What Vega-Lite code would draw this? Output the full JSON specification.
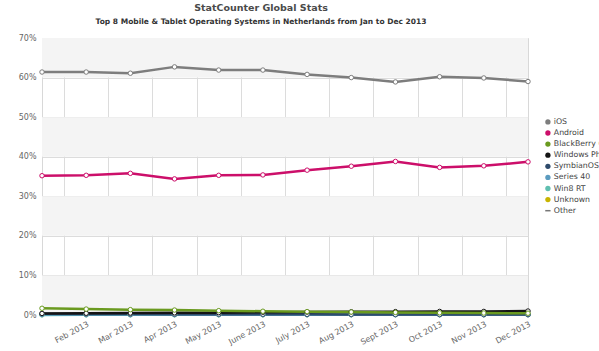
{
  "$schema": "https://vega.github.io/schema/vega-lite/v6.json",
  "autosize": "none",
  "width": 486,
  "height": 277,
  "padding": {"left": 42, "top": 38, "right": 71, "bottom": 36},
  "background": "white",
  "config": {
    "view": {"stroke": "#d8d8d8"},
    "font": "DejaVu Sans",
    "axisY": {"values": [0, 10, 20, 30, 40, 50, 60, 70], "labelExpr": "datum.value + '%'", "title": null,
      "grid": true, "gridColor": "#dcdcdc", "domain": false, "ticks": false, "labelFontSize": 8,
      "labelColor": "#666666", "labelPadding": 6, "labelFont": "DejaVu Sans", "labelOverlap": false, "tickCount": 8}
  },
  "title": {
    "text": "StatCounter Global Stats",
    "subtitle": "Top 8 Mobile & Tablet Operating Systems in Netherlands from Jan to Dec 2013",
    "font": "DejaVu Sans", "fontSize": 9.5, "fontWeight": "bold", "color": "#4a4a4a",
    "subtitleFont": "DejaVu Sans", "subtitleFontSize": 7.5, "subtitleFontWeight": "bold", "subtitleColor": "#333333",
    "anchor": "middle", "dx": -24, "offset": 9, "subtitlePadding": 5
  },
  "layer": [
    {
      "data": {"values": [{"lo": 0, "hi": 10}, {"lo": 20, "hi": 30}, {"lo": 40, "hi": 50}, {"lo": 60, "hi": 70}]},
      "mark": {"type": "rect", "color": "#f4f4f4"},
      "encoding": {
        "y": {"field": "lo", "type": "quantitative", "scale": {"domain": [0, 70], "nice": false},
          "axis": {"values": [0, 10, 20, 30, 40, 50, 60, 70], "labelExpr": "datum.value + '%'", "title": null, "labelOverlap": false}},
        "y2": {"field": "hi"}
      }
    },
    {
      "data": {"name": "main"},
      "mark": {"type": "line", "strokeWidth": 2.5},
      "encoding": {
        "x": {"field": "m", "type": "quantitative", "scale": {"domain": [1, 12], "nice": false, "zero": false},
          "axis": {"values": [2, 3, 4, 5, 6, 7, 8, 9, 10, 11, 12], "title": null,
            "labelExpr": "['Jan','Feb','Mar','Apr','May','June','July','Aug','Sept','Oct','Nov','Dec'][datum.value - 1] + ' 2013'",
            "labelAngle": -28, "labelAlign": "right", "labelBaseline": "top", "labelFontSize": 8, "labelColor": "#666666",
            "labelPadding": 5, "tickOffset": -22.09, "labelOffset": 22.09, "grid": true, "gridColor": "#dcdcdc",
            "ticks": false, "domain": true, "domainColor": "#c8c8c8", "labelFont": "DejaVu Sans", "labelOverlap": false}},
        "y": {"field": "share", "type": "quantitative",
          "axis": {"values": [0, 10, 20, 30, 40, 50, 60, 70], "labelExpr": "datum.value + '%'", "title": null, "labelOverlap": false}},
        "color": {"field": "os", "type": "nominal",
          "scale": {"domain": ["iOS", "Android", "BlackBerry OS", "Windows Phone", "SymbianOS", "Series 40", "Win8 RT", "Unknown", "Other"],
            "range": ["#7d7d7d", "#cc0f6a", "#6a9a1f", "#141414", "#2e4a6b", "#5b9bbf", "#5fbfb0", "#c8b400", "#777777"]},
          "legend": {"title": null, "orient": "none", "legendX": 502, "legendY": 80, "padding": 0,
            "symbolType": "circle", "symbolSize": 28, "symbolStrokeWidth": 0, "labelFontSize": 7.8, "labelColor": "#444444",
            "labelFont": "DejaVu Sans", "labelOffset": 2, "rowPadding": 2.1, "labelLimit": 300,
            "encode": {"symbols": {"update": {
              "fill": {"scale": "color", "field": "value"},
              "stroke": {"scale": "color", "field": "value"},
              "shape": {"signal": "datum.value === 'Other' ? 'stroke' : 'circle'"},
              "strokeWidth": {"signal": "datum.value === 'Other' ? 1.5 : 0"}}}}}},
        "order": {"field": "m", "type": "quantitative"}
      }
    },
    {
      "data": {"name": "main"},
      "transform": [{"filter": "datum.os !== 'Other'"}],
      "mark": {"type": "point", "filled": false, "fill": "white", "size": 20, "strokeWidth": 1, "opacity": 1},
      "encoding": {
        "x": {"field": "m", "type": "quantitative"},
        "y": {"field": "share", "type": "quantitative"},
        "stroke": {"field": "os", "type": "nominal",
          "scale": {"domain": ["iOS", "Android", "BlackBerry OS", "Windows Phone", "SymbianOS", "Series 40", "Win8 RT", "Unknown", "Other"],
            "range": ["#7d7d7d", "#cc0f6a", "#6a9a1f", "#141414", "#2e4a6b", "#5b9bbf", "#5fbfb0", "#c8b400", "#777777"]},
          "legend": null}
      }
    }
  ],
  "datasets": {
    "main": [
      {"os": "Other", "m": 1, "share": 0.05}, {"os": "Other", "m": 2, "share": 0.05}, {"os": "Other", "m": 3, "share": 0.05}, {"os": "Other", "m": 4, "share": 0.05}, {"os": "Other", "m": 5, "share": 0.05}, {"os": "Other", "m": 6, "share": 0.05}, {"os": "Other", "m": 7, "share": 0.05}, {"os": "Other", "m": 8, "share": 0.05}, {"os": "Other", "m": 9, "share": 0.05}, {"os": "Other", "m": 10, "share": 0.05}, {"os": "Other", "m": 11, "share": 0.05}, {"os": "Other", "m": 12, "share": 0.05},
      {"os": "Unknown", "m": 1, "share": 0.1}, {"os": "Unknown", "m": 2, "share": 0.1}, {"os": "Unknown", "m": 3, "share": 0.1}, {"os": "Unknown", "m": 4, "share": 0.1}, {"os": "Unknown", "m": 5, "share": 0.1}, {"os": "Unknown", "m": 6, "share": 0.1}, {"os": "Unknown", "m": 7, "share": 0.1}, {"os": "Unknown", "m": 8, "share": 0.1}, {"os": "Unknown", "m": 9, "share": 0.1}, {"os": "Unknown", "m": 10, "share": 0.1}, {"os": "Unknown", "m": 11, "share": 0.1}, {"os": "Unknown", "m": 12, "share": 0.1},
      {"os": "Win8 RT", "m": 1, "share": 0.03}, {"os": "Win8 RT", "m": 2, "share": 0.04}, {"os": "Win8 RT", "m": 3, "share": 0.05}, {"os": "Win8 RT", "m": 4, "share": 0.05}, {"os": "Win8 RT", "m": 5, "share": 0.06}, {"os": "Win8 RT", "m": 6, "share": 0.06}, {"os": "Win8 RT", "m": 7, "share": 0.07}, {"os": "Win8 RT", "m": 8, "share": 0.07}, {"os": "Win8 RT", "m": 9, "share": 0.08}, {"os": "Win8 RT", "m": 10, "share": 0.08}, {"os": "Win8 RT", "m": 11, "share": 0.09}, {"os": "Win8 RT", "m": 12, "share": 0.1},
      {"os": "Series 40", "m": 1, "share": 0.12}, {"os": "Series 40", "m": 2, "share": 0.11}, {"os": "Series 40", "m": 3, "share": 0.1}, {"os": "Series 40", "m": 4, "share": 0.1}, {"os": "Series 40", "m": 5, "share": 0.09}, {"os": "Series 40", "m": 6, "share": 0.09}, {"os": "Series 40", "m": 7, "share": 0.08}, {"os": "Series 40", "m": 8, "share": 0.08}, {"os": "Series 40", "m": 9, "share": 0.07}, {"os": "Series 40", "m": 10, "share": 0.07}, {"os": "Series 40", "m": 11, "share": 0.06}, {"os": "Series 40", "m": 12, "share": 0.06},
      {"os": "SymbianOS", "m": 1, "share": 0.3}, {"os": "SymbianOS", "m": 2, "share": 0.28}, {"os": "SymbianOS", "m": 3, "share": 0.25}, {"os": "SymbianOS", "m": 4, "share": 0.22}, {"os": "SymbianOS", "m": 5, "share": 0.2}, {"os": "SymbianOS", "m": 6, "share": 0.18}, {"os": "SymbianOS", "m": 7, "share": 0.16}, {"os": "SymbianOS", "m": 8, "share": 0.15}, {"os": "SymbianOS", "m": 9, "share": 0.13}, {"os": "SymbianOS", "m": 10, "share": 0.12}, {"os": "SymbianOS", "m": 11, "share": 0.11}, {"os": "SymbianOS", "m": 12, "share": 0.1},
      {"os": "Windows Phone", "m": 1, "share": 0.4}, {"os": "Windows Phone", "m": 2, "share": 0.45}, {"os": "Windows Phone", "m": 3, "share": 0.5}, {"os": "Windows Phone", "m": 4, "share": 0.55}, {"os": "Windows Phone", "m": 5, "share": 0.6}, {"os": "Windows Phone", "m": 6, "share": 0.7}, {"os": "Windows Phone", "m": 7, "share": 0.75}, {"os": "Windows Phone", "m": 8, "share": 0.8}, {"os": "Windows Phone", "m": 9, "share": 0.85}, {"os": "Windows Phone", "m": 10, "share": 0.9}, {"os": "Windows Phone", "m": 11, "share": 0.9}, {"os": "Windows Phone", "m": 12, "share": 1.0},
      {"os": "BlackBerry OS", "m": 1, "share": 1.7}, {"os": "BlackBerry OS", "m": 2, "share": 1.5}, {"os": "BlackBerry OS", "m": 3, "share": 1.35}, {"os": "BlackBerry OS", "m": 4, "share": 1.25}, {"os": "BlackBerry OS", "m": 5, "share": 1.1}, {"os": "BlackBerry OS", "m": 6, "share": 0.95}, {"os": "BlackBerry OS", "m": 7, "share": 0.85}, {"os": "BlackBerry OS", "m": 8, "share": 0.75}, {"os": "BlackBerry OS", "m": 9, "share": 0.65}, {"os": "BlackBerry OS", "m": 10, "share": 0.55}, {"os": "BlackBerry OS", "m": 11, "share": 0.5}, {"os": "BlackBerry OS", "m": 12, "share": 0.45},
      {"os": "Android", "m": 1, "share": 35.2}, {"os": "Android", "m": 2, "share": 35.3}, {"os": "Android", "m": 3, "share": 35.8}, {"os": "Android", "m": 4, "share": 34.4}, {"os": "Android", "m": 5, "share": 35.3}, {"os": "Android", "m": 6, "share": 35.4}, {"os": "Android", "m": 7, "share": 36.6}, {"os": "Android", "m": 8, "share": 37.6}, {"os": "Android", "m": 9, "share": 38.8}, {"os": "Android", "m": 10, "share": 37.3}, {"os": "Android", "m": 11, "share": 37.7}, {"os": "Android", "m": 12, "share": 38.7},
      {"os": "iOS", "m": 1, "share": 61.4}, {"os": "iOS", "m": 2, "share": 61.4}, {"os": "iOS", "m": 3, "share": 61.1}, {"os": "iOS", "m": 4, "share": 62.7}, {"os": "iOS", "m": 5, "share": 61.9}, {"os": "iOS", "m": 6, "share": 61.9}, {"os": "iOS", "m": 7, "share": 60.8}, {"os": "iOS", "m": 8, "share": 60.0}, {"os": "iOS", "m": 9, "share": 58.9}, {"os": "iOS", "m": 10, "share": 60.2}, {"os": "iOS", "m": 11, "share": 59.9}, {"os": "iOS", "m": 12, "share": 59.0}
    ]
  }
}
